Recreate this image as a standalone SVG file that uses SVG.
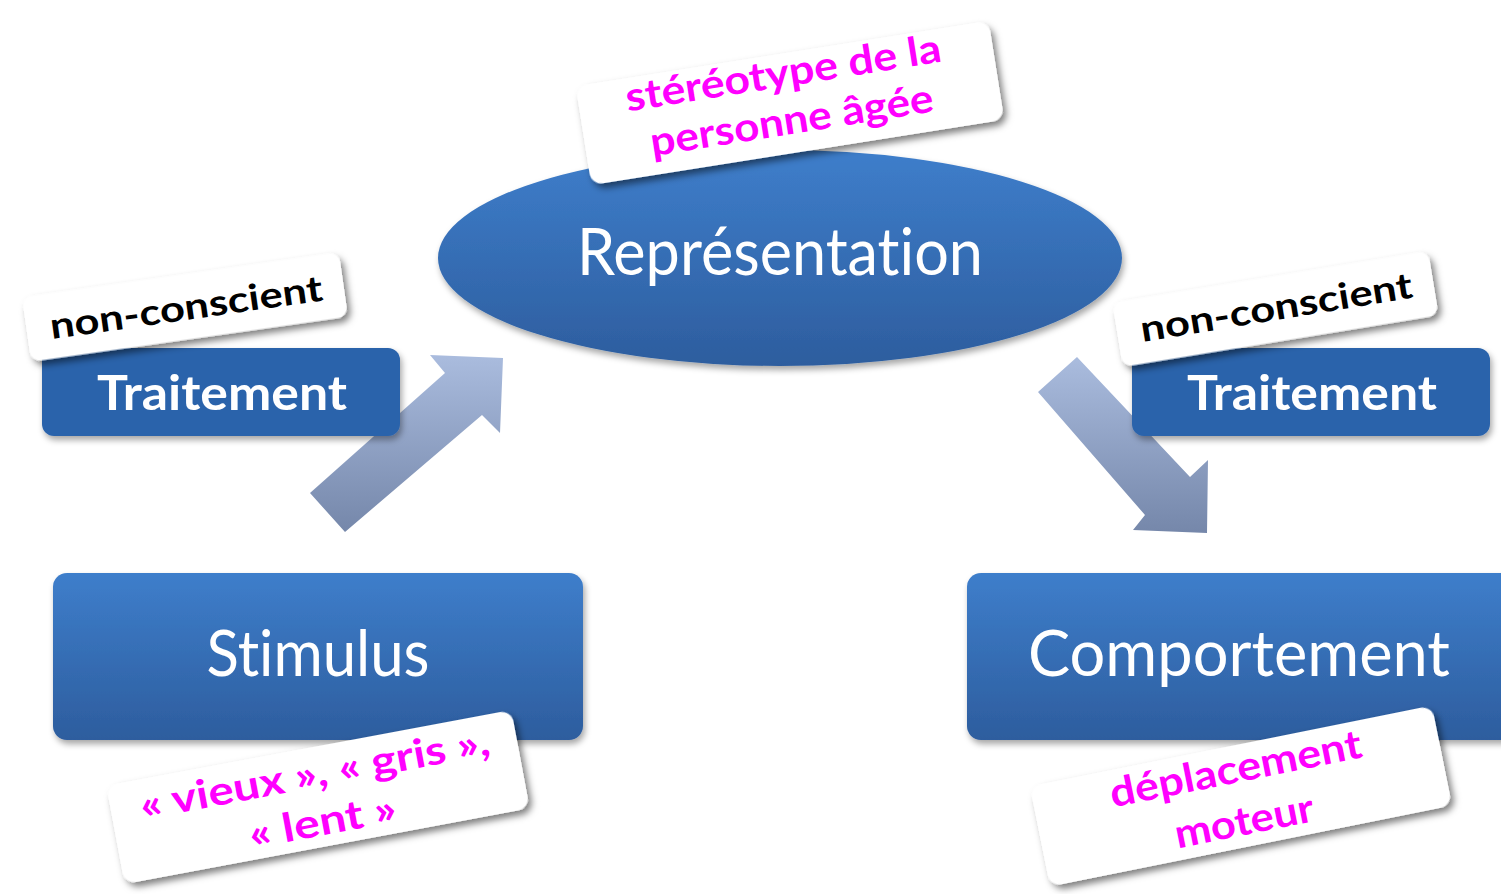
<svg xmlns="http://www.w3.org/2000/svg" width="1501" height="894" viewBox="0 0 1501 894">
<defs>
<linearGradient id="gBlue" x1="0" y1="0" x2="0" y2="1">
<stop offset="0" stop-color="#3e7ecb"/>
<stop offset="1" stop-color="#2d5d9e"/>
</linearGradient>
<linearGradient id="gArrow" x1="0" y1="0" x2="0" y2="1">
<stop offset="0" stop-color="#aabcde"/>
<stop offset="1" stop-color="#7587aa"/>
</linearGradient>
<filter id="sh" x="-20%" y="-30%" width="140%" height="170%">
<feDropShadow dx="3" dy="5" stdDeviation="3.5" flood-color="#000" flood-opacity="0.5"/>
</filter>
<filter id="shs" x="-20%" y="-30%" width="140%" height="170%">
<feDropShadow dx="2" dy="4" stdDeviation="3" flood-color="#000" flood-opacity="0.35"/>
</filter>
</defs>
<style>
text{font-variant-ligatures:none;font-feature-settings:"liga" 0,"dlig" 0}
.main{font-family:Lato,"Open Sans","DejaVu Sans",sans-serif;fill:#fff;text-anchor:middle}
.trt{font-family:Lato,"Open Sans","DejaVu Sans",sans-serif;font-weight:bold;fill:#fff;font-size:48px;text-anchor:middle}
.nc{font-family:Lato,"Open Sans","DejaVu Sans",sans-serif;font-weight:bold;fill:#000;font-size:36px;text-anchor:middle}
.mag{font-family:Lato,"Open Sans","DejaVu Sans",sans-serif;font-weight:bold;fill:#ff00ff;font-size:40px;text-anchor:middle}
.note{fill:#fff;filter:url(#sh)}
.box{fill:#2b63ab;filter:url(#shs)}
.bigbox{fill:url(#gBlue);filter:url(#shs)}
</style>
<g id="connectors">
<polygon fill="url(#gArrow)" points="310,493 445,373 430,355 503,358 500,433 482,415 345,532"/>
<polygon fill="url(#gArrow)" points="1077,357 1190,477 1208,460 1207,533 1133,530 1145,515 1038,392"/>
</g>
<g id="representation">
<ellipse cx="780" cy="258" rx="342" ry="108" fill="url(#gBlue)" filter="url(#shs)"/>
<text class="main" x="780" y="275" font-size="66" textLength="406" lengthAdjust="spacingAndGlyphs">Représentation</text>
</g>
<g id="note-stereotype" transform="translate(790,103) rotate(-9)">
<rect class="note" x="-209" y="-50" width="418" height="100" rx="12"/>
<text class="mag" x="-2" y="-17" textLength="319" lengthAdjust="spacingAndGlyphs">stéréotype de la</text>
<text class="mag" x="-1" y="31" textLength="286" lengthAdjust="spacingAndGlyphs">personne âgée</text>
</g>
<g id="traitement-left">
<rect class="box" x="42" y="348" width="358" height="88" rx="12"/>
<text class="trt" x="222" y="410" textLength="250" lengthAdjust="spacingAndGlyphs">Traitement</text>
</g>
<g id="note-nc-left" transform="translate(185,307) rotate(-8.1)">
<rect class="note" x="-160" y="-32.5" width="320" height="65" rx="10"/>
<text class="nc" x="1" y="13" textLength="275" lengthAdjust="spacingAndGlyphs">non-conscient</text>
</g>
<g id="traitement-right">
<rect class="box" x="1132" y="348" width="358" height="88" rx="12"/>
<text class="trt" x="1312" y="410" textLength="250" lengthAdjust="spacingAndGlyphs">Traitement</text>
</g>
<g id="note-nc-right" transform="translate(1275.5,309) rotate(-9.3)">
<rect class="note" x="-160" y="-32.5" width="320" height="65" rx="10"/>
<text class="nc" x="1" y="11" textLength="275" lengthAdjust="spacingAndGlyphs">non-conscient</text>
</g>
<g id="stimulus">
<rect class="bigbox" x="53" y="573" width="530" height="167" rx="14"/>
<text class="main" x="318" y="676" font-size="64" textLength="223" lengthAdjust="spacingAndGlyphs">Stimulus</text>
</g>
<g id="note-stimulus" transform="translate(318,797) rotate(-10.6)">
<rect class="note" x="-206" y="-50" width="412" height="100" rx="12"/>
<text class="mag" x="1" y="-10" textLength="355" lengthAdjust="spacingAndGlyphs">« vieux », « gris »,</text>
<text class="mag" x="0" y="38.5" textLength="149" lengthAdjust="spacingAndGlyphs">« lent »</text>
</g>
<g id="comportement">
<rect class="bigbox" x="967" y="573" width="550" height="167" rx="14"/>
<text class="main" x="1239" y="676" font-size="64" textLength="422" lengthAdjust="spacingAndGlyphs">Comportement</text>
</g>
<g id="note-comportement" transform="translate(1241,796) rotate(-11.4)">
<rect class="note" x="-205" y="-51" width="410" height="102" rx="12"/>
<text class="mag" x="0" y="-14" textLength="256" lengthAdjust="spacingAndGlyphs">déplacement</text>
<text class="mag" x="-2" y="39" textLength="141" lengthAdjust="spacingAndGlyphs">moteur</text>
</g>
</svg>
